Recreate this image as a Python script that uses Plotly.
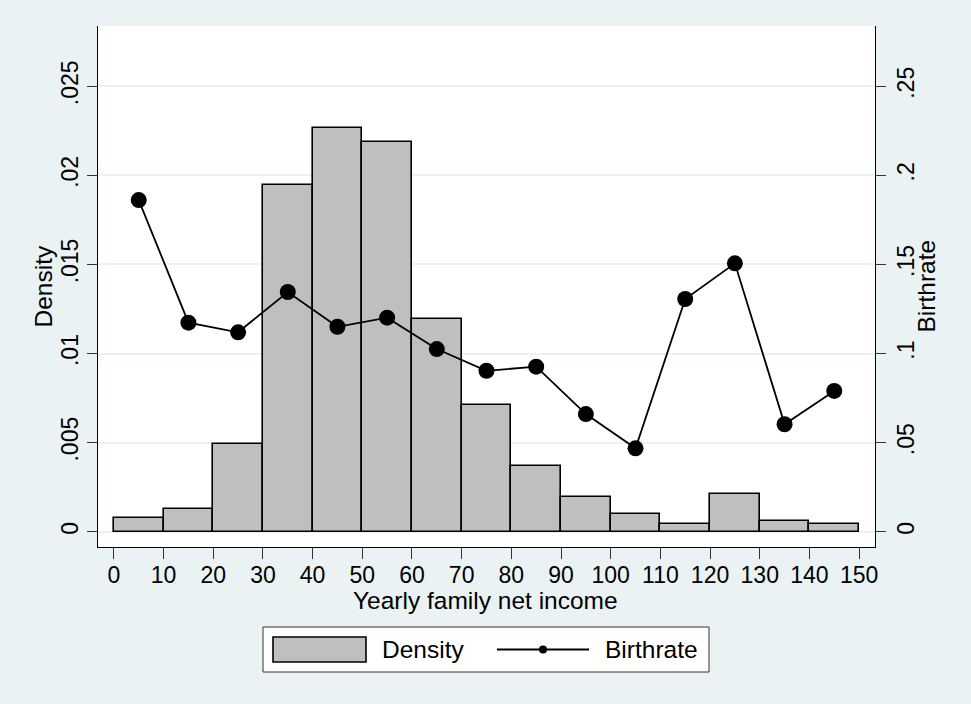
import plotly.graph_objects as go

# ---- data ----
bin_centers = [5, 15, 25, 35, 45, 55, 65, 75, 85, 95, 105, 115, 125, 135, 145]
density = [0.00075, 0.00126, 0.00492, 0.01946, 0.02263, 0.02186, 0.01195,
           0.00711, 0.00371, 0.00197, 0.00098, 0.00042, 0.00212, 0.00060, 0.00042]
birthrate = [0.1861, 0.1173, 0.1119, 0.1345, 0.1150, 0.1201, 0.1025,
             0.0903, 0.0926, 0.0660, 0.0468, 0.1306, 0.1506, 0.0603, 0.0790]
bin_width = 10

x_ticks = list(range(0, 151, 10))
y1_ticks = [0, 0.005, 0.01, 0.015, 0.02, 0.025]
y1_labels = ["0", ".005", ".01", ".015", ".02", ".025"]
y2_ticks = [0, 0.05, 0.1, 0.15, 0.2, 0.25]
y2_labels = ["0", ".05", ".1", ".15", ".2", ".25"]

BG = "#EAF2F3"
FONT = "Liberation Sans, Arial, sans-serif"
TICK_SIZE = 23
TITLE_SIZE = 24.5

fig = go.Figure()
fig.add_trace(go.Bar(
    x=bin_centers, y=density, width=[bin_width] * len(bin_centers),
    name="Density", marker=dict(color="#BFBFBF", line=dict(color="black", width=1.6)),
    yaxis="y", showlegend=False,
))
fig.add_trace(go.Scatter(
    x=bin_centers, y=birthrate, mode="lines+markers", name="Birthrate",
    line=dict(color="black", width=1.8),
    marker=dict(color="black", size=16),
    yaxis="y2", showlegend=False,
))

axis_common = dict(
    showline=True, linecolor="black", linewidth=1,
    ticks="outside", tickcolor="#333333", tickwidth=1,
    tickfont=dict(family=FONT, size=TICK_SIZE, color="black"),
    zeroline=False,
)

fig.update_layout(
    width=971, height=704,
    paper_bgcolor=BG, plot_bgcolor="white",
    margin=dict(l=98, r=96, t=26, b=157, autoexpand=False),
    showlegend=False,
    bargap=0,
    font=dict(family=FONT, color="black"),
    xaxis=dict(
        range=[-3.2, 153.2], tickvals=x_ticks, ticklen=11, showgrid=False,
        ticklabelstandoff=-4,
        **axis_common,
    ),
    yaxis=dict(
        range=[-0.00086, 0.02838], tickvals=y1_ticks, ticktext=y1_labels,
        tickangle=-90, ticklen=10, showgrid=True, gridcolor=BG, gridwidth=1.5,
        **axis_common,
    ),
    yaxis2=dict(
        range=[-0.0086, 0.2838], tickvals=y2_ticks, ticktext=y2_labels,
        tickangle=-90, ticklen=10, showgrid=False, overlaying="y", side="right",
        **axis_common,
    ),
)

# pixel -> paper helpers (plot area: x 98..875, y 26..547)
W, H, L, B = 777.0, 521.0, 98.0, 547.0
def px(x):
    return (x - L) / W
def py(y):
    return (B - y) / H

title_font = dict(family=FONT, size=TITLE_SIZE, color="black")

# axis titles
fig.add_annotation(text="Yearly family net income", xref="paper", yref="paper",
                   x=px(485), y=py(600), xanchor="center", yanchor="middle",
                   showarrow=False, font=title_font)
fig.add_annotation(text="Density", xref="paper", yref="paper",
                   x=px(43), y=py(286.5), xanchor="center", yanchor="middle",
                   textangle=-90, showarrow=False, font=title_font)
fig.add_annotation(text="Birthrate", xref="paper", yref="paper",
                   x=px(926), y=py(286.5), xanchor="center", yanchor="middle",
                   textangle=-90, showarrow=False, font=title_font)

# ---- legend (drawn below the plot) ----
fig.add_shape(type="rect", xref="paper", yref="paper",
              x0=px(263), x1=px(709), y0=py(672), y1=py(627),
              fillcolor="white", line=dict(color="#333333", width=1))
fig.add_shape(type="rect", xref="paper", yref="paper",
              x0=px(273), x1=px(366), y0=py(662), y1=py(637),
              fillcolor="#BFBFBF", line=dict(color="black", width=1.6))
fig.add_shape(type="line", xref="paper", yref="paper",
              x0=px(497), x1=px(589), y0=py(649.5), y1=py(649.5),
              line=dict(color="black", width=1.8))
fig.add_shape(type="circle", xref="paper", yref="paper",
              xsizemode="pixel", ysizemode="pixel",
              xanchor=px(543), yanchor=py(649.5), x0=-4, x1=4, y0=-4, y1=4,
              fillcolor="black", line=dict(color="black", width=0))
fig.add_annotation(text="Density", xref="paper", yref="paper",
                   x=px(380), y=py(649.5), xanchor="left", yanchor="middle",
                   showarrow=False, font=title_font)
fig.add_annotation(text="Birthrate", xref="paper", yref="paper",
                   x=px(603), y=py(649.5), xanchor="left", yanchor="middle",
                   showarrow=False, font=title_font)

fig.write_html(
    "out.html",
    config={"displayModeBar": False},
    post_script="document.body.style.margin='0';document.body.style.padding='0';",
)
